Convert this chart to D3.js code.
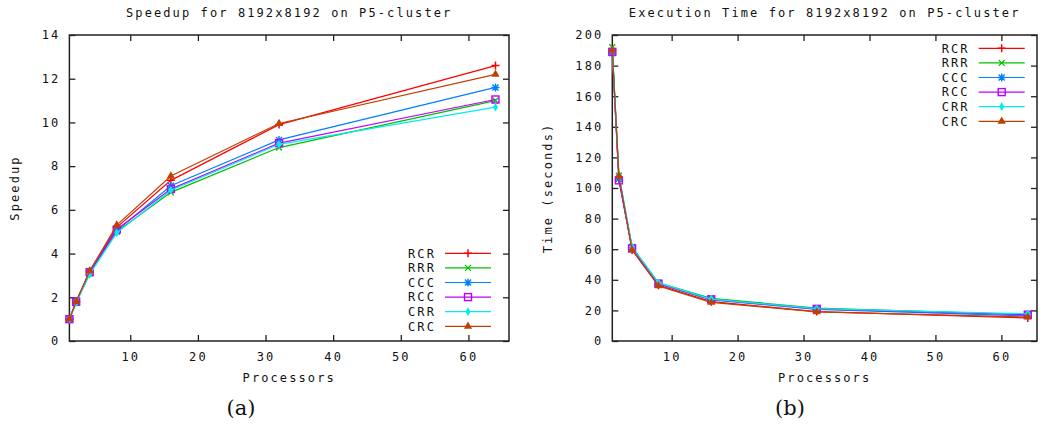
<!DOCTYPE html>
<html>
<head>
<meta charset="utf-8">
<script src="https://cdn.jsdelivr.net/npm/d3@7"></script>
<style>
  body { margin: 0; background: #fff; }
  text.mono { font-family: "DejaVu Sans Mono", monospace; font-size: 12px; letter-spacing: 2.1px; fill: #111; }
</style>
</head>
<body>
<svg id="chart" width="1047" height="430"></svg>
<script>
// processors used in every run
const processors = [1, 2, 4, 8, 16, 32, 64];
const seriesNames = ["RCR", "RRR", "CCC", "RCC", "CRR", "CRC"];

const speedupRCR = [1, 1.8, 3.2, 5.2, 7.35, 9.9, 12.6];
const speedupRRR = [1, 1.75, 3.1, 5.0, 6.8, 8.85, 11.0];
const speedupCCC = [1, 1.8, 3.15, 5.05, 7.1, 9.2, 11.6];
const speedupRCC = [1, 1.8, 3.15, 5.1, 6.95, 9.05, 11.05];
const speedupCRR = [1, 1.75, 3.05, 4.95, 6.9, 9.0, 10.7];
const speedupCRC = [1, 1.8, 3.2, 5.3, 7.55, 9.95, 12.2];

const timeRCR = [190, 106, 59.5, 36.5, 25.7, 19.2, 15.1];
const timeRRR = [192, 108, 61.5, 38, 27.9, 21.5, 17.3];
const timeCCC = [188, 106, 61, 37.5, 26.8, 20.7, 16.4];
const timeRCC = [189, 105, 60.5, 37.5, 27.2, 21, 17.2];
const timeCRR = [190, 109, 61.5, 38, 27.4, 21.1, 17.8];
const timeCRC = [190, 108, 59.5, 36, 25.2, 19.1, 15.6];

const xTicks = [10, 20, 30, 40, 50, 60];
const speedupTicks = [0, 2, 4, 6, 8, 10, 12, 14];
const timeTicks = [0, 20, 40, 60, 80, 100, 120, 140, 160, 180, 200];

const colors = ["#ff0000", "#00c000", "#0080ff", "#c000ff", "#00eeee", "#c04000"];

const svg = d3.select("#chart");

// gnuplot style point markers
function marker(g, i, cx, cy, col) {
    const m = g.append("g").attr("transform", `translate(${cx},${cy})`);
    if (i === 0) {
        m.append("path").attr("d", "M-4,0H4M0,-4V4").attr("stroke", col).attr("stroke-width", 1.5);
    } else if (i === 1) {
        m.append("path").attr("d", "M-3,-3L3,3M-3,3L3,-3").attr("stroke", col).attr("stroke-width", 1.3);
    } else if (i === 2) {
        m.append("path").attr("d", "M-4,0H4M0,-4V4M-3,-3L3,3M-3,3L3,-3").attr("stroke", col).attr("stroke-width", 1.4);
    } else if (i === 3) {
        m.append("rect").attr("x", -3.5).attr("y", -3.5).attr("width", 7).attr("height", 7)
            .attr("fill", "none").attr("stroke", col).attr("stroke-width", 1.4);
    } else if (i === 4) {
        m.append("path").attr("d", d3.symbol(d3.symbolDiamond, 22)()).attr("fill", col);
    } else {
        m.append("path").attr("d", d3.symbol(d3.symbolTriangle, 30)()).attr("fill", col);
    }
}

function drawPanel(opt) {
    const x = d3.scaleLinear().domain(opt.xDomain).range([opt.left, opt.right]);
    const y = d3.scaleLinear().domain(opt.yDomain).range([opt.bottom, opt.top]);
    const g = svg.append("g");

    // ticks on all four sides, pointing inward
    g.append("g").attr("transform", `translate(0,${opt.bottom})`)
        .call(d3.axisBottom(x).tickValues(xTicks).tickSizeInner(-6).tickSizeOuter(0).tickPadding(11));
    g.append("g").attr("transform", `translate(0,${opt.top})`)
        .call(d3.axisTop(x).tickValues(xTicks).tickSizeInner(-6).tickSizeOuter(0).tickFormat(""));
    g.append("g").attr("transform", `translate(${opt.left},0)`)
        .call(d3.axisLeft(y).tickValues(opt.yTicks).tickSizeInner(-6).tickSizeOuter(0).tickPadding(9));
    g.append("g").attr("transform", `translate(${opt.right},0)`)
        .call(d3.axisRight(y).tickValues(opt.yTicks).tickSizeInner(-6).tickSizeOuter(0).tickFormat(""));

    g.selectAll(".domain").remove();
    g.selectAll(".tick line").attr("stroke", "#222").attr("stroke-width", 1.3);
    g.selectAll(".tick text").attr("class", "mono").attr("font-family", null).attr("font-size", null);

    g.append("rect")
        .attr("x", opt.left).attr("y", opt.top)
        .attr("width", opt.right - opt.left).attr("height", opt.bottom - opt.top)
        .attr("fill", "none").attr("stroke", "#222").attr("stroke-width", 1.5);

    const line = d3.line().x((d, k) => x(processors[k])).y(d => y(d));

    opt.series.forEach((vals, i) => {
        g.append("path")
            .attr("d", line(vals))
            .attr("fill", "none")
            .attr("stroke", colors[i])
            .attr("stroke-width", 1.2);
        vals.forEach((v, k) => marker(g, i, x(processors[k]), y(v), colors[i]));
    });

    // legend
    seriesNames.forEach((name, i) => {
        const ly = opt.legendY + i * 14.6;
        g.append("text").attr("class", "mono")
            .attr("x", opt.legendX).attr("y", ly).attr("dy", "0.36em")
            .text(name);
        g.append("line")
            .attr("x1", opt.legendX + 37).attr("x2", opt.legendX + 83)
            .attr("y1", ly).attr("y2", ly)
            .attr("stroke", colors[i]).attr("stroke-width", 1.2);
        marker(g, i, opt.legendX + 60, ly, colors[i]);
    });

    // titles and labels
    g.append("text").attr("class", "mono")
        .attr("x", (opt.left + opt.right) / 2).attr("y", 13).attr("dy", "0.36em")
        .attr("text-anchor", "middle").text(opt.title);
    g.append("text").attr("class", "mono")
        .attr("x", (opt.left + opt.right) / 2).attr("y", 378).attr("dy", "0.36em")
        .attr("text-anchor", "middle").text("Processors");
    g.append("text").attr("class", "mono")
        .attr("transform", `translate(${opt.yLabelX},${(opt.top + opt.bottom) / 2}) rotate(-90)`)
        .attr("dy", "0.36em")
        .attr("text-anchor", "middle").text(opt.yLabel);
    g.append("text")
        .attr("x", opt.capX).attr("y", 408).attr("dy", "0.35em")
        .attr("text-anchor", "middle")
        .style("font-family", "'DejaVu Serif', serif").style("font-size", "21px").style("fill", "#111")
        .text(opt.caption);
}

drawPanel({
    left: 69.4, right: 509, top: 35, bottom: 341,
    xDomain: [1, 66], yDomain: [0, 14], yTicks: speedupTicks,
    series: [speedupRCR, speedupRRR, speedupCCC, speedupRCC, speedupCRR, speedupCRC],
    legendX: 408, legendY: 253.3,
    title: "Speedup for 8192x8192 on P5-cluster",
    yLabel: "Speedup", yLabelX: 15, capX: 241, caption: "(a)"
});

drawPanel({
    left: 612.3, right: 1037, top: 35, bottom: 341,
    xDomain: [1, 65.4], yDomain: [0, 200], yTicks: timeTicks,
    series: [timeRCR, timeRRR, timeCCC, timeRCC, timeCRR, timeCRC],
    legendX: 941.7, legendY: 48.3,
    title: "Execution Time for 8192x8192 on P5-cluster",
    yLabel: "Time (seconds)", yLabelX: 548, capX: 790, caption: "(b)"
});
</script>
</body>
</html>
